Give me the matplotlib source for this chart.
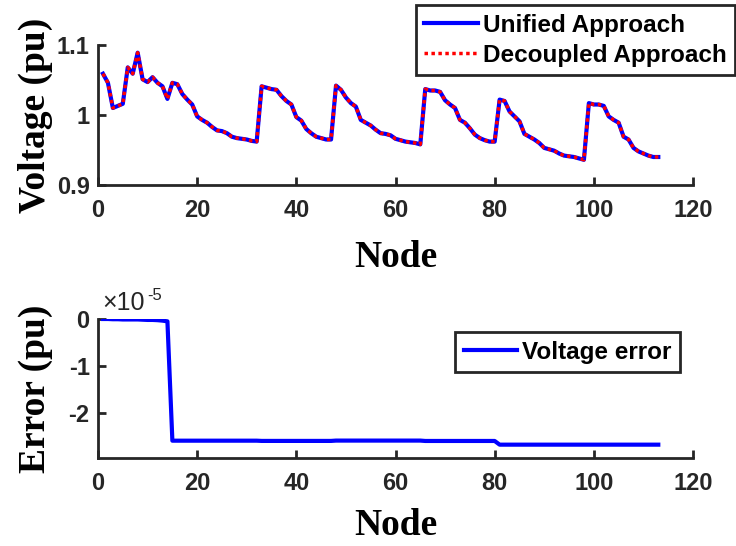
import matplotlib
matplotlib.use("Agg")
import matplotlib.pyplot as plt
import numpy as np

# node voltages (pu), nodes 1..113
v_feeder1 = [1.059, 1.046, 1.010, 1.013, 1.016, 1.068, 1.059, 1.089, 1.051, 1.047,
             1.054, 1.046, 1.041, 1.023, 1.046, 1.044, 1.030, 1.022, 1.015, 0.998,
             0.993, 0.989, 0.983, 0.978, 0.977, 0.974, 0.969, 0.967, 0.966, 0.965,
             0.963, 0.962]
v_feeder2 = [1.041, 1.039, 1.037, 1.036, 1.027, 1.020, 1.015, 0.997, 0.992, 0.980,
             0.974, 0.969, 0.967, 0.965, 0.965]
v_feeder3 = [1.042, 1.036, 1.025, 1.017, 1.012, 0.993, 0.989, 0.985, 0.979, 0.974,
             0.973, 0.971, 0.966, 0.964, 0.962, 0.961, 0.960, 0.958]
v_feeder4 = [1.037, 1.035, 1.035, 1.033, 1.021, 1.015, 1.010, 0.993, 0.989, 0.981,
             0.972, 0.967, 0.964, 0.962, 0.962]
v_feeder5 = [1.022, 1.020, 1.005, 0.998, 0.991, 0.973, 0.969, 0.965, 0.960, 0.953,
             0.951, 0.949, 0.945, 0.942, 0.941, 0.940, 0.938, 0.936]
v_feeder6 = [1.017, 1.015, 1.015, 1.013, 0.998, 0.993, 0.989, 0.969, 0.965, 0.953,
             0.948, 0.945, 0.942, 0.940, 0.940]

v_unified = v_feeder1 + v_feeder2 + v_feeder3 + v_feeder4 + v_feeder5 + v_feeder6
v_decoupled = list(v_unified)
nodes = np.arange(1, len(v_unified) + 1)

# voltage error in units of 1e-5 pu
err_head = [0.0, 0.0, -0.005, -0.005, -0.01, -0.01, -0.01, -0.01, -0.015, -0.02,
            -0.02, -0.025, -0.035, -0.05]
err_tail = ([-2.600] * 18 + [-2.605] * 15 + [-2.598] * 18 + [-2.606] * 15
            + [-2.685] * 33)
err_1e5 = err_head + err_tail

x_ticks = [0, 20, 40, 60, 80, 100, 120]
v_ticks = [0.9, 1.0, 1.1]
v_ticklabels = ['0.9', '1', '1.1']
e_ticks = [-2, -1, 0]
e_ticklabels = ['-2', '-1', '0']

ink = '#262626'
tickfont = {'family': 'Liberation Sans', 'weight': 'bold', 'size': 17}
labelfont = {'family': 'Liberation Serif', 'weight': 'bold', 'size': 27}
legprop = {'family': 'Liberation Sans', 'weight': 'bold', 'size': 17.5}

fig = plt.figure(figsize=(7.36, 5.46), dpi=100)
ax1 = fig.add_axes([98 / 736, 1 - 185 / 546, 595 / 736, 140 / 546])
ax2 = fig.add_axes([98 / 736, 1 - 458 / 546, 595 / 736, 139 / 546])


def style(ax):
    for s in ['top', 'right']:
        ax.spines[s].set_visible(False)
    for s in ['left', 'bottom']:
        ax.spines[s].set_linewidth(2)
        ax.spines[s].set_color(ink)
    ax.tick_params(direction='in', length=6, width=2, color=ink)
    ax.tick_params(axis='x', pad=10)
    ax.tick_params(axis='y', pad=6)
    ax.set_xlim(0, 120)
    ax.set_xticks(x_ticks)
    ax.set_xticklabels([str(t) for t in x_ticks], fontdict=tickfont, color=ink)


style(ax1)
ax1.plot(nodes, v_unified, color='#0000ff', lw=3.0, label='Unified Approach')
ax1.plot(nodes, v_decoupled, color='#ff0000', lw=2.5, dashes=(1.0, 1.0),
         label='Decoupled Approach')
ax1.set_ylim(0.9, 1.1)
ax1.set_yticks(v_ticks)
ax1.set_yticklabels(v_ticklabels, fontdict=tickfont, color=ink)
ax1.set_xlabel('Node', fontdict=labelfont)
ax1.set_ylabel('Voltage (pu)', fontdict=labelfont)
ax1.xaxis.set_label_coords(0.5, -0.39)
ax1.yaxis.set_label_coords(-0.075, 0.5)
leg1 = ax1.legend(loc='upper right', bbox_to_anchor=(735 / 736, 1 - 5 / 546),
                  bbox_transform=fig.transFigure, borderaxespad=0, prop=legprop,
                  handlelength=2.2, handletextpad=0.2, borderpad=0.35,
                  labelspacing=0.3, fancybox=False, framealpha=1,
                  edgecolor=ink)
leg1.get_frame().set_linewidth(2)

style(ax2)
ax2.plot(nodes, err_1e5, color='#0000ff', lw=3.0, label='Voltage error')
ax2.set_ylim(-2.97, 0)
ax2.set_yticks(e_ticks)
ax2.set_yticklabels(e_ticklabels, fontdict=tickfont, color=ink)
ax2.set_xlabel('Node', fontdict=labelfont)
ax2.set_ylabel('Error (pu)', fontdict=labelfont)
ax2.xaxis.set_label_coords(0.5, -0.36)
ax2.yaxis.set_label_coords(-0.075, 0.5)
ax2.text(0.007, 1.065, '\u00d710', transform=ax2.transAxes, va='baseline',
         ha='left', fontsize=18, family='Liberation Sans', color=ink)
ax2.text(0.083, 1.14, '-5', transform=ax2.transAxes, va='baseline',
         ha='left', fontsize=12, family='Liberation Sans', color=ink)
leg2 = ax2.legend(loc='upper right', bbox_to_anchor=(680 / 736, 1 - 332 / 546),
                  bbox_transform=fig.transFigure, borderaxespad=0, prop=legprop,
                  handlelength=2.2, handletextpad=0.2, borderpad=0.35,
                  fancybox=False, framealpha=1, edgecolor=ink)
leg2.get_frame().set_linewidth(2)

fig.savefig('out.png', dpi=100)
